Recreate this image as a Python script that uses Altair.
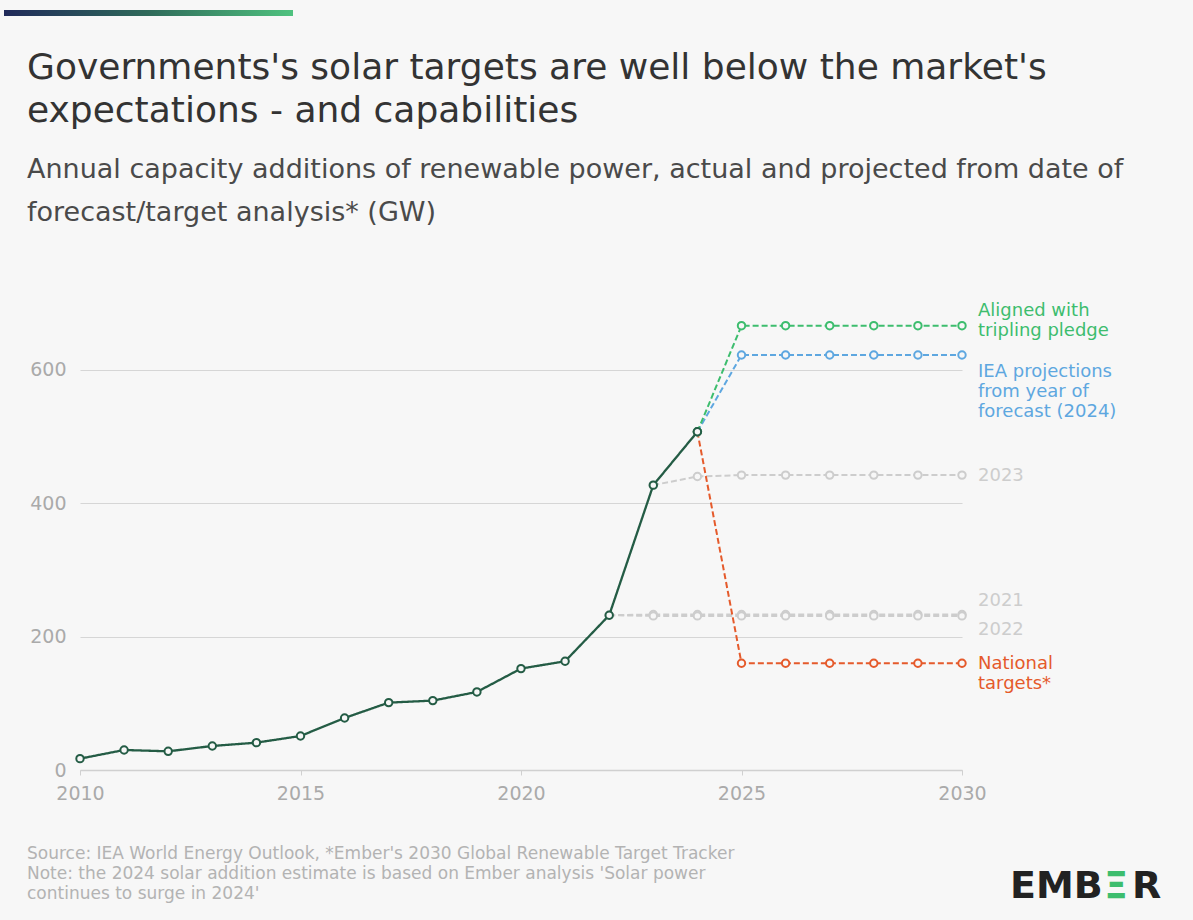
import altair as alt
import pandas as pd

BG = "#f7f7f7"
FONT = "DejaVu Sans"

# ---- data ----
years_actual = list(range(2010, 2025))
actual_gw = [17, 30, 28, 36, 41, 51, 78, 101, 104, 117, 152, 163, 232, 427, 507]

years_from_2024 = [2024, 2025, 2026, 2027, 2028, 2029, 2030]
aligned_gw = [507, 666, 666, 666, 666, 666, 666]
iea_2024_gw = [507, 622, 622, 622, 622, 622, 622]
national_gw = [507, 160, 160, 160, 160, 160, 160]

years_from_2023 = [2023, 2024, 2025, 2026, 2027, 2028, 2029, 2030]
iea_2023_gw = [427, 440, 442, 442, 442, 442, 442, 442]

years_from_2022 = [2022, 2023, 2024, 2025, 2026, 2027, 2028, 2029, 2030]
iea_2022_gw = [232, 231, 231, 231, 231, 231, 231, 231, 231]
iea_2021_gw = [232, 233, 233, 233, 233, 233, 233, 233, 233]

series_names = ["Actual", "Aligned", "IEA 2024", "National", "IEA 2023", "IEA 2022", "IEA 2021"]
series_colors = ["#245c45", "#3dbd6e", "#5ea7e0", "#e55a2b", "#cdcdcd", "#cdcdcd", "#cdcdcd"]
label_colors = ["#245c45", "#3dbd6e", "#5ea7e0", "#e55a2b", "#c6c6c6", "#c6c6c6", "#c6c6c6"]

label_text = ["Aligned with\ntripling pledge", "IEA projections\nfrom year of\nforecast (2024)",
              "2023", "2021", "2022", "National\ntargets*"]
label_series = ["Aligned", "IEA 2024", "IEA 2023", "IEA 2021", "IEA 2022", "National"]
label_gw = [688, 597, 441, 253, 210, 159]
label_year = [2030] * 6

x_ticks = [2010, 2015, 2020, 2025, 2030]
y_ticks = [0, 200, 400, 600]

title_lines = ["Governments's solar targets are well below the market's",
               "expectations - and capabilities"]
subtitle_lines = ["Annual capacity additions of renewable power, actual and projected from date of",
                  "forecast/target analysis* (GW)"]
footer_lines = ["Source: IEA World Energy Outlook, *Ember's 2030 Global Renewable Target Tracker",
                "Note: the 2024 solar addition estimate is based on Ember analysis 'Solar power",
                "continues to surge in 2024'"]

# ---- tables ----
def frame(name, years, vals):
    return pd.DataFrame({"year": years, "gw": vals, "series": name})

gray_df = pd.concat([frame("IEA 2021", years_from_2022, iea_2021_gw),
                     frame("IEA 2022", years_from_2022, iea_2022_gw),
                     frame("IEA 2023", years_from_2023, iea_2023_gw)])
proj_df = pd.concat([frame("National", years_from_2024, national_gw),
                     frame("IEA 2024", years_from_2024, iea_2024_gw),
                     frame("Aligned", years_from_2024, aligned_gw)])
actual_df = frame("Actual", years_actual, actual_gw)
labels_df = pd.DataFrame({"year": label_year, "gw": label_gw, "text": label_text, "series": label_series})

W, H = 882, 467
color = alt.Color("series:N", scale=alt.Scale(domain=series_names, range=series_colors), legend=None)
label_color = alt.Color("series:N", scale=alt.Scale(domain=series_names, range=label_colors), legend=None)
xenc = alt.X("year:Q", scale=alt.Scale(domain=[2010, 2030], nice=False),
             axis=alt.Axis(values=x_ticks, format="d", title=None, grid=False, domain=True,
                           domainColor="#d0d0d0", domainWidth=1.5, ticks=True, tickSize=5,
                           tickColor="#d0d0d0", labelColor="#aaaaaa", labelFontSize=19,
                           labelPadding=9, labelFont=FONT, labelFlush=False))
yenc = alt.Y("gw:Q", scale=alt.Scale(domain=[0, 700], nice=False),
             axis=alt.Axis(values=y_ticks, title=None, grid=True, gridColor="#d6d6d6",
                           gridWidth=1.2, domain=False, ticks=False, labelColor="#aaaaaa",
                           labelFontSize=19, labelPadding=14, labelFont=FONT))

def lines_and_points(df, dash, width):
    base = alt.Chart(df)
    ln = base.mark_line(strokeDash=dash, strokeWidth=width).encode(
        x=xenc, y=yenc, color=color, detail="series:N")
    pt = base.mark_point(shape="circle", filled=False, fill=BG, fillOpacity=1, size=55,
                         strokeWidth=2).encode(x=xenc, y=yenc, color=color)
    return ln + pt

gray_layer = lines_and_points(gray_df, [6, 3], 2)
proj_layer = lines_and_points(proj_df, [6, 3], 2)
actual_layer = lines_and_points(actual_df, [1, 0], 2.3)

labels = alt.Chart(labels_df).mark_text(align="left", baseline="middle", dx=16, fontSize=18,
                                        lineBreak="\n", lineHeight=20, font=FONT).encode(
    x=xenc, y=yenc, text="text:N", color=label_color)

def text_layer(lines, x, y0, step, size, col, weight=400, font=FONT):
    df = pd.DataFrame({"t": lines, "i": list(range(len(lines)))})
    return alt.Chart(df).mark_text(align="left", baseline="middle", fontSize=size, color=col,
                                   fontWeight=weight, font=font).transform_calculate(
        py=f"{y0} + datum.i * {step}").encode(
        text="t:N", x=alt.value(x), y=alt.Y("py:Q", scale=None, axis=None))

title_t = text_layer(title_lines, -53, -235, 43, 36, "#333333")
subtitle_t = text_layer(subtitle_lines, -53, -133, 43, 27, "#4a4a4a")
footer_t = text_layer(footer_lines, -53, 551, 20, 17, "#b3b3b3")

logo_df = pd.DataFrame({"t": ["EMB", "Ξ", "R"], "c": ["#222222", "#3dbd6e", "#222222"],
                        "px": [930, 1024, 1052]})
logo = alt.Chart(logo_df).mark_text(align="left", baseline="middle", fontSize=38,
                                    fontWeight="bold", font="DejaVu Sans").encode(
    text="t:N", x=alt.X("px:Q", scale=None, axis=None), y=alt.value(584),
    color=alt.Color("c:N", scale=None))

bar = alt.Chart(pd.DataFrame({"a": [0]})).mark_rect(
    color=alt.Gradient(gradient="linear", x1=0, x2=1, y1=0, y2=0,
                       stops=[alt.GradientStop(color="#202a5a", offset=0),
                              alt.GradientStop(color="#2f6a5a", offset=0.5),
                              alt.GradientStop(color="#4fc27f", offset=1)])
).encode(x=alt.value(-76), x2=alt.value(213), y=alt.value(-293), y2=alt.value(-287))

chart = alt.layer(gray_layer, proj_layer, actual_layer, labels, title_t, subtitle_t,
                  footer_t, logo, bar).properties(
    width=W, height=H,
    autosize=alt.AutoSizeParams(type="none"),
    padding={"left": 80, "top": 303, "right": 231, "bottom": 150},
    background=BG,
).configure_view(stroke=None)

chart.save("out.html", embed_options={"renderer": "svg", "actions": False})
